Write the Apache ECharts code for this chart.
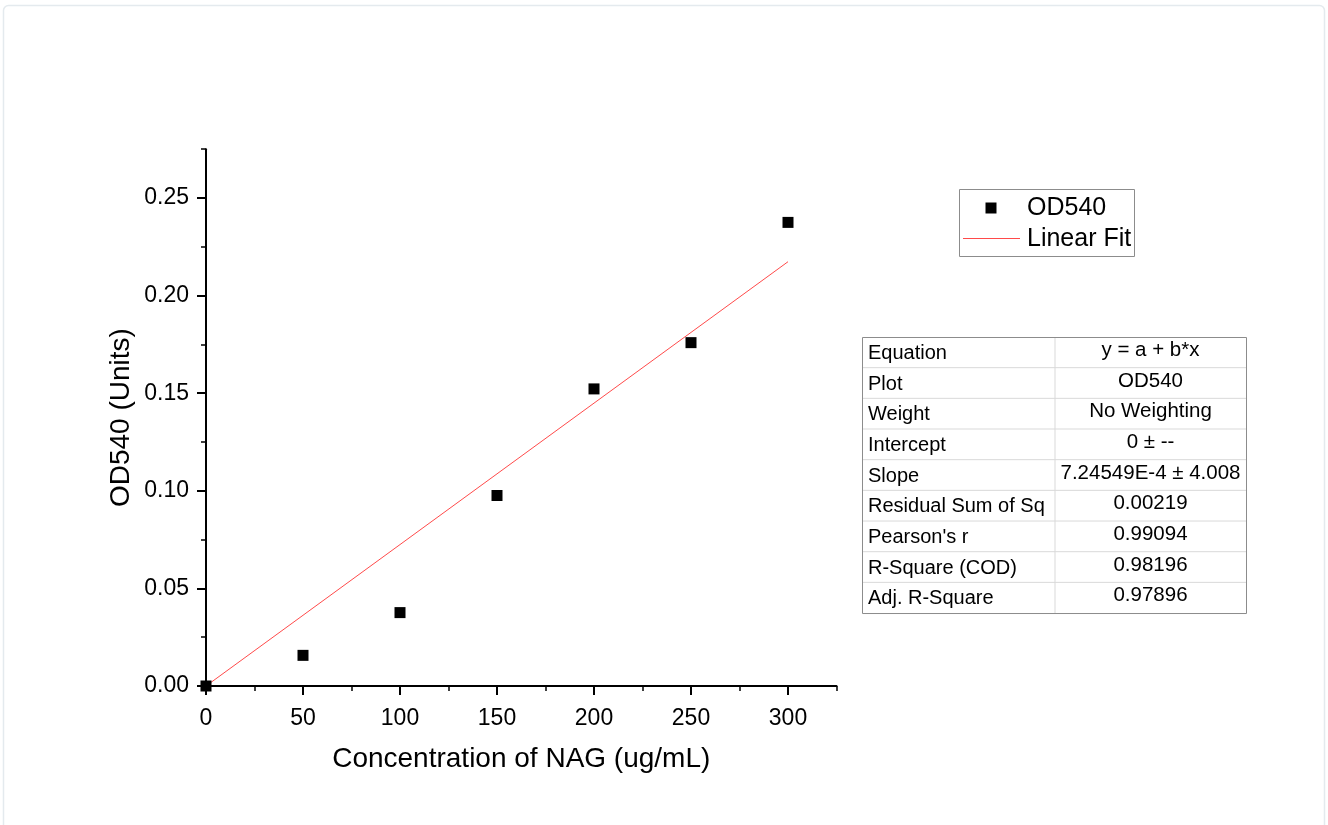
<!DOCTYPE html>
<html><head><meta charset="utf-8">
<script src="https://cdn.jsdelivr.net/npm/echarts@6/dist/echarts.min.js"></script>
<style>html,body{margin:0;padding:0;background:#fff}#c{width:1328px;height:825px}</style>
</head><body><div id="c"></div>
<script>
// ---- data ----
const concX = [0, 50, 100, 150, 200, 250, 300];
const od540 = [0, 0.0157, 0.0376, 0.0976, 0.1522, 0.1759, 0.2375];
const fitX = [0, 300];
const fitY = [0, 0.21736];
const xMajorTicks = [0, 50, 100, 150, 200, 250, 300];
const xMinorTicks = [25, 75, 125, 175, 225, 275, 325];
const yMajorTicks = [0, 0.05, 0.10, 0.15, 0.20, 0.25];
const yMinorTicks = [0.025, 0.075, 0.125, 0.175, 0.225, 0.275];
const xTitle = 'Concentration of NAG (ug/mL)';
const yTitle = 'OD540 (Units)';
const legendNames = ['OD540', 'Linear Fit'];
const tableLabels = ['Equation', 'Plot', 'Weight', 'Intercept', 'Slope', 'Residual Sum of Sq', "Pearson's r", 'R-Square (COD)', 'Adj. R-Square'];
const tableValues = ['y = a + b*x', 'OD540', 'No Weighting', '0 \u00b1 --', '7.24549E-4 \u00b1 4.008', '0.00219', '0.99094', '0.98196', '0.97896'];

// ---- styling ----
const FONT = "'Liberation Sans', Arial, sans-serif";
const chart = echarts.init(document.getElementById('c'), null, {renderer: 'canvas'});

const scatterData = concX.map((x, i) => [x, od540[i]]);
const fitData = fitX.map((x, i) => [x, fitY[i]]);

// table graphic
const tX = 862, tY = 337, tW = 384, rowH = 30.67, colX = 1055;
const tableEls = [];
tableLabels.forEach((lab, i) => {
  const y = tY + i * rowH;
  if (i > 0) tableEls.push({type: 'line', shape: {x1: tX, y1: y, x2: tX + tW, y2: y}, style: {stroke: '#d9d9d9', lineWidth: 1}});
  tableEls.push({type: 'text', x: tX + 6, y: y + rowH / 2 + 1, style: {text: lab, font: '20px ' + FONT, fill: '#000', textVerticalAlign: 'middle', textAlign: 'left'}});
  tableEls.push({type: 'text', x: (colX + tX + tW) / 2, y: y + rowH / 2 - 2, style: {text: tableValues[i], font: '20.5px ' + FONT, fill: '#000', textVerticalAlign: 'middle', textAlign: 'center'}});
});
tableEls.push({type: 'line', shape: {x1: colX, y1: tY, x2: colX, y2: tY + rowH * tableLabels.length}, style: {stroke: '#d9d9d9', lineWidth: 1}});
tableEls.push({type: 'rect', shape: {x: tX + 0.5, y: tY + 0.5, width: tW, height: rowH * tableLabels.length}, style: {fill: 'none', stroke: '#8c8c8c', lineWidth: 1}});

const legendEls = [
  {type: 'rect', shape: {x: 959.5, y: 189.5, width: 175, height: 67}, style: {fill: '#fff', stroke: '#8c8c8c', lineWidth: 1}},
  {type: 'rect', shape: {x: 985.5, y: 202.5, width: 11, height: 11}, style: {fill: '#000'}},
  {type: 'text', x: 1027, y: 208, style: {text: legendNames[0], font: '25px ' + FONT, fill: '#000', textVerticalAlign: 'middle'}},
  {type: 'line', shape: {x1: 963, y1: 238.5, x2: 1020, y2: 238.5}, style: {stroke: '#ff4a4a', lineWidth: 1}},
  {type: 'text', x: 1027, y: 239, style: {text: legendNames[1], font: '25px ' + FONT, fill: '#000', textVerticalAlign: 'middle'}}
];

const axisLineStyle = {color: '#000', width: 2};

const option = {
  backgroundColor: '#fff',
  animation: false,
  grid: {left: 206, top: 149.2, right: 491.5, bottom: 139, containLabel: false},
  xAxis: [
    {
      type: 'value', min: 0, max: 325, position: 'bottom',
      name: xTitle, nameLocation: 'middle', nameGap: 59,
      nameTextStyle: {fontFamily: FONT, fontSize: 28, color: '#000'},
      axisLine: {show: true, onZero: false, lineStyle: axisLineStyle},
      axisTick: {show: true, customValues: xMajorTicks, length: 9, lineStyle: {color: '#000', width: 2}},
      axisLabel: {show: true, customValues: xMajorTicks, margin: 21, fontFamily: FONT, fontSize: 23, color: '#000'},
      splitLine: {show: false}
    },
    {
      type: 'value', min: 0, max: 325, position: 'bottom',
      axisLine: {show: false, onZero: false},
      axisTick: {show: true, customValues: xMinorTicks, length: 5, lineStyle: {color: '#000', width: 1.5}},
      axisLabel: {show: false},
      splitLine: {show: false}
    }
  ],
  yAxis: [
    {
      type: 'value', min: 0, max: 0.275, position: 'left',
      name: yTitle, nameLocation: 'middle', nameGap: 71,
      nameTextStyle: {fontFamily: FONT, fontSize: 28, color: '#000'},
      axisLine: {show: true, onZero: false, lineStyle: axisLineStyle},
      axisTick: {show: true, customValues: yMajorTicks, length: 9, lineStyle: {color: '#000', width: 2}},
      axisLabel: {show: true, customValues: yMajorTicks, margin: 17, fontFamily: FONT, fontSize: 23, color: '#000',
        formatter: v => v.toFixed(2)},
      splitLine: {show: false}
    },
    {
      type: 'value', min: 0, max: 0.275, position: 'left',
      axisLine: {show: false, onZero: false},
      axisTick: {show: true, customValues: yMinorTicks, length: 5, lineStyle: {color: '#000', width: 1.5}},
      axisLabel: {show: false},
      splitLine: {show: false}
    }
  ],
  series: [
    {
      name: legendNames[1], type: 'line', data: fitData, xAxisIndex: 0, yAxisIndex: 0,
      symbol: 'none', lineStyle: {color: '#ff4a4a', width: 1}, z: 2
    },
    {
      name: legendNames[0], type: 'scatter', data: scatterData, xAxisIndex: 0, yAxisIndex: 0,
      symbol: 'rect', symbolSize: 11, itemStyle: {color: '#000', opacity: 1}, z: 3
    }
  ],
  graphic: [
    {type: 'rect', shape: {x: 3.5, y: 5.5, width: 1321, height: 840, r: 5}, style: {fill: 'none', stroke: '#e4eaee', lineWidth: 1.5}, silent: true},
    {type: 'group', children: legendEls},
    {type: 'group', children: tableEls}
  ]
};
chart.setOption(option);
</script>
</body></html>
